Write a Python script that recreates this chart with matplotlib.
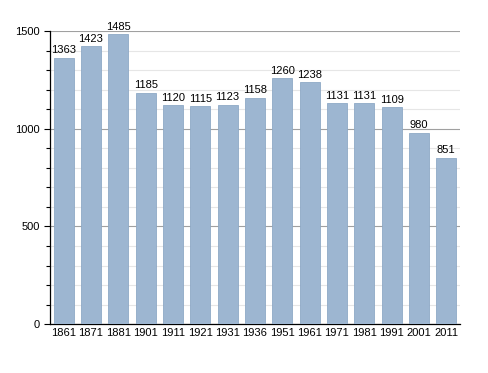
import matplotlib
matplotlib.use("Agg")
import matplotlib.pyplot as plt
from matplotlib.ticker import MultipleLocator

plt.rcParams["font.family"] = ["Liberation Sans", "DejaVu Sans"]

years = ["1861", "1871", "1881", "1901", "1911", "1921", "1931", "1936",
         "1951", "1961", "1971", "1981", "1991", "2001", "2011"]
population = [1363, 1423, 1485, 1185, 1120, 1115, 1123, 1158,
              1260, 1238, 1131, 1131, 1109, 980, 851]

fig = plt.figure(figsize=(4.88, 3.73), dpi=100)
ax = fig.add_axes([0.1025, 0.131, 0.840, 0.786])

x = list(range(len(years)))
ax.bar(x, population, width=0.73, color="#9db6d1", edgecolor="#8ea9c6",
       linewidth=0.6, zorder=3)
for xi, v in zip(x, population):
    ax.text(xi, v + 12, str(v), ha="center", va="bottom", fontsize=8,
            color="black", zorder=4)

ax.set_xlim(-0.5, len(years) - 0.5)
ax.set_ylim(0, 1500)
ax.set_xticks(x)
ax.set_xticklabels(years, fontsize=8)
ax.yaxis.set_major_locator(MultipleLocator(500))
ax.yaxis.set_minor_locator(MultipleLocator(100))
ax.tick_params(axis="y", labelsize=8, length=4, width=0.8, direction="out")
ax.tick_params(axis="y", which="minor", length=3, width=0.8)
ax.tick_params(axis="x", length=0, pad=3)
ax.grid(axis="y", which="major", color="#a0a0a0", linewidth=0.8, zorder=0)
ax.grid(axis="y", which="minor", color="#e6e6e6", linewidth=0.8, zorder=0)
for s in ["top", "right"]:
    ax.spines[s].set_visible(False)
ax.spines["left"].set_linewidth(0.9)
ax.spines["bottom"].set_linewidth(0.9)

fig.savefig("out.png", dpi=100)
